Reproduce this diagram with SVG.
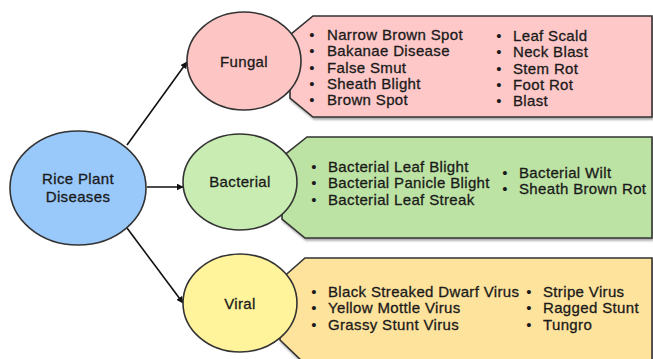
<svg xmlns="http://www.w3.org/2000/svg" width="653" height="359" viewBox="0 0 653 359">
<defs>
<marker id="ah" viewBox="0 0 10 10" refX="9" refY="5" markerWidth="7" markerHeight="7" orient="auto" markerUnits="userSpaceOnUse">
<path d="M0,0 L10,5 L0,10 Z" fill="#111"/>
</marker>
<filter id="sh" x="-5%" y="-10%" width="110%" height="130%">
<feDropShadow dx="1" dy="2" stdDeviation="1" flood-color="#000" flood-opacity="0.35"/>
</filter>
<style>
.shape{stroke:#333;stroke-width:1.6}
.lbl{font-family:"Liberation Sans",Arial,sans-serif;font-size:15px;letter-spacing:0.35px;fill:#1a1a1a;stroke:#1a1a1a;stroke-width:0.3}
.mid{text-anchor:middle}
.bul{font-family:"Liberation Sans",Arial,sans-serif;font-size:15px;fill:#1a1a1a;text-anchor:middle}
.conn{stroke:#111;stroke-width:1.6;fill:none}
</style>
</defs>
<rect width="653" height="359" fill="#fff"/>

<g id="fungal-list">
<polygon class="shape" filter="url(#sh)" fill="#fec8c8" points="313,16 652,16 652,117 313,117 290,98 290,35"/>
<text class="bul" x="312" y="40">•</text>
<text class="bul" x="312" y="56">•</text>
<text class="bul" x="312" y="72.5">•</text>
<text class="bul" x="312" y="89">•</text>
<text class="bul" x="312" y="105">•</text>
<text class="lbl" x="327" y="40">Narrow Brown Spot</text>
<text class="lbl" x="327" y="56">Bakanae Disease</text>
<text class="lbl" x="327" y="72.5">False Smut</text>
<text class="lbl" x="327" y="89">Sheath Blight</text>
<text class="lbl" x="327" y="105">Brown Spot</text>
<text class="bul" x="499" y="41">•</text>
<text class="bul" x="499" y="57">•</text>
<text class="bul" x="499" y="74">•</text>
<text class="bul" x="499" y="90">•</text>
<text class="bul" x="499" y="106">•</text>
<text class="lbl" x="513" y="41">Leaf Scald</text>
<text class="lbl" x="513" y="57">Neck Blast</text>
<text class="lbl" x="513" y="74">Stem Rot</text>
<text class="lbl" x="513" y="90">Foot Rot</text>
<text class="lbl" x="513" y="106">Blast</text>
</g>

<g id="bacterial-list">
<polygon class="shape" filter="url(#sh)" fill="#bde3a4" points="307,137 652,137 652,238 305,238 282,219 282,157"/>
<text class="bul" x="314" y="172">•</text>
<text class="bul" x="314" y="188">•</text>
<text class="bul" x="314" y="205">•</text>
<text class="lbl" x="328" y="172">Bacterial Leaf Blight</text>
<text class="lbl" x="328" y="188">Bacterial Panicle Blight</text>
<text class="lbl" x="328" y="205">Bacterial Leaf Streak</text>
<text class="bul" x="505" y="178">•</text>
<text class="bul" x="505" y="194">•</text>
<text class="lbl" x="519" y="178">Bacterial Wilt</text>
<text class="lbl" x="519" y="194">Sheath Brown Rot</text>
</g>

<g id="viral-list">
<polygon class="shape" filter="url(#sh)" fill="#fee39d" points="305,258 652,258 652,364 305,364 280,340 280,280"/>
<text class="bul" x="314" y="297">•</text>
<text class="bul" x="314" y="313">•</text>
<text class="bul" x="314" y="330">•</text>
<text class="lbl" x="328" y="297">Black Streaked Dwarf Virus</text>
<text class="lbl" x="328" y="313">Yellow Mottle Virus</text>
<text class="lbl" x="328" y="330">Grassy Stunt Virus</text>
<text class="bul" x="529" y="297">•</text>
<text class="bul" x="529" y="313">•</text>
<text class="bul" x="529" y="330">•</text>
<text class="lbl" x="543" y="297">Stripe Virus</text>
<text class="lbl" x="543" y="313">Ragged Stunt</text>
<text class="lbl" x="543" y="330">Tungro</text>
</g>

<g id="connectors">
<line class="conn" x1="127" y1="145" x2="187" y2="62" marker-end="url(#ah)"/>
<line class="conn" x1="147" y1="187" x2="183" y2="187" marker-end="url(#ah)"/>
<line class="conn" x1="127" y1="228" x2="183" y2="303" marker-end="url(#ah)"/>
</g>

<g id="rice">
<ellipse class="shape" fill="#99c8fa" cx="78" cy="188" rx="68" ry="57"/>
<text class="lbl mid" x="78" y="184">Rice Plant</text>
<text class="lbl mid" x="78" y="202">Diseases</text>
</g>

<g id="fungal">
<ellipse class="shape" fill="#fec5c5" cx="244" cy="61" rx="57" ry="49"/>
<text class="lbl mid" x="244" y="67">Fungal</text>
</g>

<g id="bacterial">
<ellipse class="shape" fill="#c8ecb2" cx="240" cy="182" rx="57" ry="48"/>
<text class="lbl mid" x="240" y="187">Bacterial</text>
</g>

<g id="viral">
<ellipse class="shape" fill="#fff49b" cx="240" cy="303" rx="57" ry="49"/>
<text class="lbl mid" x="240" y="309">Viral</text>
</g>
</svg>
